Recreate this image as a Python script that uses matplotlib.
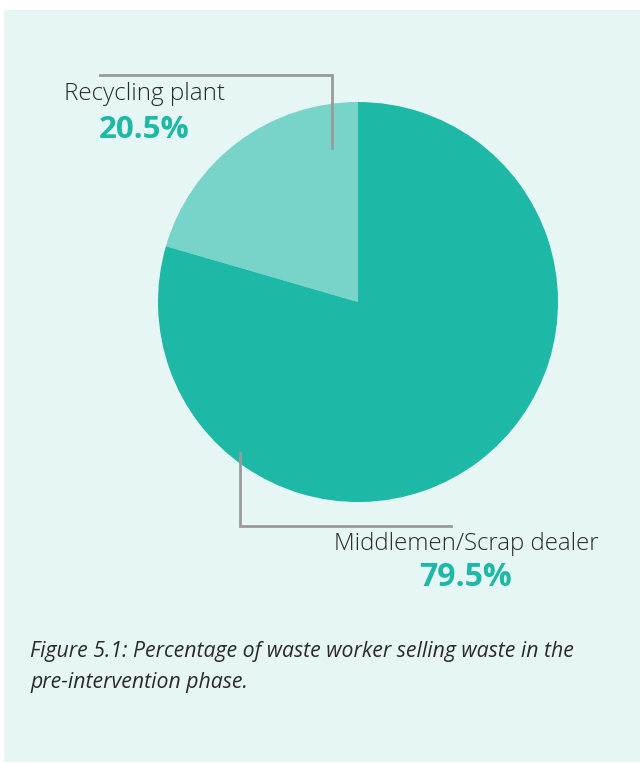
import matplotlib.pyplot as plt
from matplotlib.patches import Rectangle

# ---- data ----
labels = ["Recycling plant", "Middlemen/Scrap dealer"]
shares = [20.5, 79.5]
colors = ["#78d4c8", "#1db9a6"]
caption = ("Figure 5.1: Percentage of waste worker selling waste in the\n"
           "pre-intervention phase.")

W, H = 640, 763
BG = "#e6f6f4"
TEAL = "#1db9a6"
GREY = "#9a9a9a"
TXT = "#2a2a2a"
FONT = "Open Sans"

fig = plt.figure(figsize=(W / 100, H / 100), dpi=100, facecolor="white")
ax = fig.add_axes([0, 0, 1, 1])

# panel background
ax.add_patch(Rectangle((4, 1), W - 4, H - 11, facecolor=BG, edgecolor="none", zorder=0))

# pie, starting at 12 o'clock and running anticlockwise
cx, cy, r = 358, H - 302, 200
ax.pie(shares, colors=colors, startangle=90, counterclock=True,
       center=(cx, cy), radius=r, wedgeprops=dict(linewidth=0),
       frame=True)
ax.set_xlim(0, W)
ax.set_ylim(0, H)
ax.set_aspect("equal")
ax.axis("off")

# leader lines
ax.plot([332, 332, 100], [H - 148, H - 75, H - 75], color=GREY, lw=2.0,
        solid_joinstyle="miter", zorder=3)
ax.plot([240, 240, 451], [H - 453, H - 526, H - 526], color=GREY, lw=2.0,
        solid_joinstyle="miter", zorder=3)

# labels
ax.text(145, H - 94, labels[0], ha="center", va="center", fontsize=17.5,
        color=TXT, family=FONT, fontweight="light")
ax.text(144, H - 130, f"{shares[0]}%", ha="center", va="center", fontsize=22.5,
        color=TEAL, family=FONT, fontweight="bold")
ax.text(466, H - 544, labels[1], ha="center", va="center", fontsize=17.3,
        color=TXT, family=FONT, fontweight="light")
ax.text(465, H - 578, f"{shares[1]}%", ha="center", va="center", fontsize=23,
        color=TEAL, family=FONT, fontweight="bold")

# caption
ax.text(30, H - 641, caption, ha="left", va="top", fontsize=15.3,
        color=TXT, family=FONT, style="italic", linespacing=1.6)

fig.savefig("out.png", dpi=100, facecolor="white")
